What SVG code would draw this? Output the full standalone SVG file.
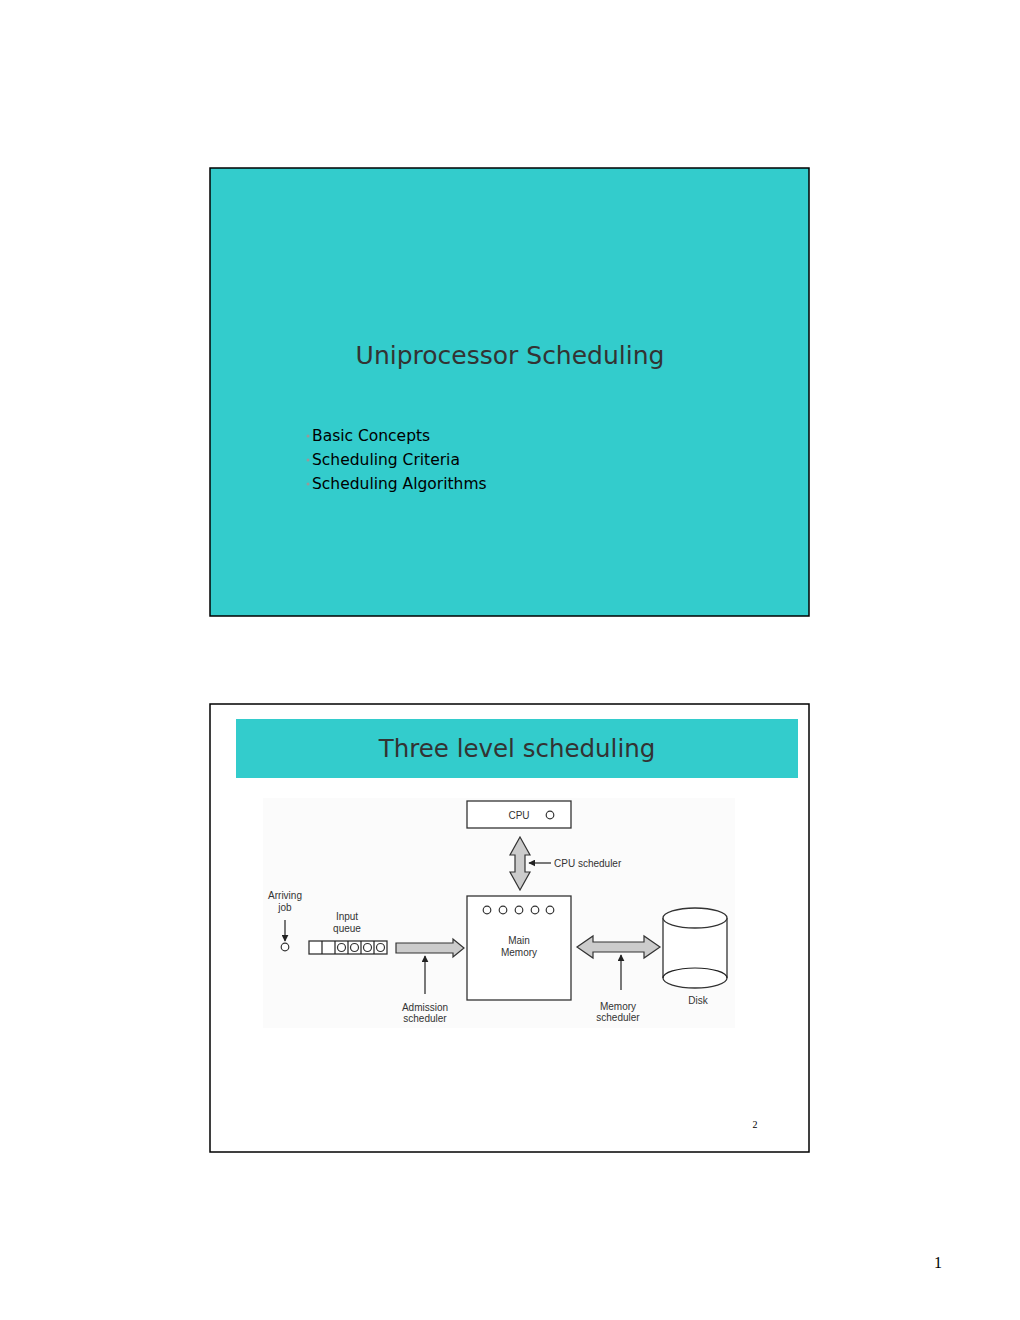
<svg xmlns="http://www.w3.org/2000/svg" width="1020" height="1320" viewBox="0 0 1020 1320">
<style>
.slide{fill:#33CCCC;stroke:#000;stroke-width:1.5}
.frame{fill:#fff;stroke:#000;stroke-width:1.5}
.ttl{font-family:"DejaVu Sans",sans-serif;fill:#333;text-anchor:middle}
.bul{font-family:"DejaVu Sans",sans-serif;fill:#000;font-size:15.5px}
.lbl{font-family:"Liberation Sans",Arial,sans-serif;font-size:10px;fill:#333;text-anchor:middle}
.lbs{font-family:"Liberation Sans",Arial,sans-serif;font-size:10px;fill:#333;text-anchor:start}
.box{fill:#fff;stroke:#333;stroke-width:1.3}
.dot{fill:#fff;stroke:#333;stroke-width:1.2}
.fat{fill:#ccc;stroke:#333;stroke-width:1.2}
.ln{stroke:#222;stroke-width:1.2;fill:none}
.pg{font-family:"Liberation Serif",serif;fill:#000;text-anchor:middle}
</style>
<defs>
<marker id="ah" viewBox="0 0 10 10" refX="9" refY="5" markerWidth="7" markerHeight="7" markerUnits="userSpaceOnUse" orient="auto"><path d="M0,0 L10,5 L0,10 z" fill="#222"/></marker>
</defs>
<rect width="1020" height="1320" fill="#fff"/>
<g id="slide1">
<rect class="slide" x="210" y="168" width="599" height="448"/>
<text class="ttl" x="510" y="364" font-size="25">Uniprocessor Scheduling</text>
<circle cx="308" cy="436" r="1.5" fill="#999"/>
<circle cx="308" cy="460" r="1.5" fill="#999"/>
<circle cx="308" cy="484" r="1.5" fill="#999"/>
<text class="bul" x="312" y="441">Basic Concepts</text>
<text class="bul" x="312" y="465">Scheduling Criteria</text>
<text class="bul" x="312" y="489">Scheduling Algorithms</text>
</g>
<g id="slide2">
<rect class="frame" x="210" y="704" width="599" height="448"/>
<rect x="236" y="719" width="562" height="59" fill="#33CCCC"/>
<text class="ttl" x="517" y="757" font-size="24.5">Three level scheduling</text>
<rect x="263" y="798" width="472" height="230" fill="#fbfbfb"/>
<text class="pg" x="755" y="1128" font-size="10">2</text>
</g>
<g id="cpu">
<rect class="box" x="467" y="801" width="104" height="27"/>
<text class="lbl" x="519" y="819">CPU</text>
<circle class="dot" cx="550" cy="815" r="3.8"/>
</g>
<g id="main-memory">
<rect class="box" x="467" y="896" width="104" height="104"/>
<circle class="dot" cx="487" cy="910" r="3.8"/>
<circle class="dot" cx="503" cy="910" r="3.8"/>
<circle class="dot" cx="519" cy="910" r="3.8"/>
<circle class="dot" cx="535" cy="910" r="3.8"/>
<circle class="dot" cx="550" cy="910" r="3.8"/>
<text class="lbl" x="519" y="944">Main</text>
<text class="lbl" x="519" y="956">Memory</text>
</g>
<g id="disk">
<path class="box" d="M663,918 L663,978 A32,10 0 0 0 727,978 L727,918"/>
<ellipse class="box" cx="695" cy="918" rx="32" ry="10"/>
<path class="ln" d="M663,978 A32,10 0 0 1 727,978"/>
<text class="lbl" x="698" y="1004">Disk</text>
</g>
<g id="arriving-job">
<text class="lbl" x="285" y="899">Arriving</text>
<text class="lbl" x="285" y="911">job</text>
<circle class="dot" cx="285" cy="947" r="3.8"/>
</g>
<g id="input-queue">
<text class="lbl" x="347" y="920">Input</text>
<text class="lbl" x="347" y="932">queue</text>
<rect class="box" x="309" y="941" width="78" height="13"/>
<path class="ln" d="M322,941V954M335,941V954M348,941V954M361,941V954M374,941V954"/>
<circle class="dot" cx="341.5" cy="947.5" r="4"/>
<circle class="dot" cx="354.5" cy="947.5" r="4"/>
<circle class="dot" cx="367.5" cy="947.5" r="4"/>
<circle class="dot" cx="380.5" cy="947.5" r="4"/>
</g>
<g id="labels">
<text class="lbs" x="554" y="867">CPU scheduler</text>
<text class="lbl" x="425" y="1011">Admission</text>
<text class="lbl" x="425" y="1022">scheduler</text>
<text class="lbl" x="618" y="1010">Memory</text>
<text class="lbl" x="618" y="1021">scheduler</text>
</g>
<g id="connectors">
<path class="fat" d="M520,837 L530,855 L525,855 L525,872 L530,872 L520,890 L510,872 L515,872 L515,855 L510,855 Z"/>
<path class="fat" d="M396,943 L453,943 L453,939 L464,948 L453,957 L453,953 L396,953 Z"/>
<path class="fat" d="M577,947 L593,936 L593,942 L644,942 L644,936 L660,947 L644,958 L644,952 L593,952 L593,958 Z"/>
<line class="ln" x1="285" y1="920" x2="285" y2="941" marker-end="url(#ah)"/>
<line class="ln" x1="551" y1="863" x2="529" y2="863" marker-end="url(#ah)"/>
<line class="ln" x1="425" y1="994" x2="425" y2="956" marker-end="url(#ah)"/>
<line class="ln" x1="621" y1="990" x2="621" y2="955" marker-end="url(#ah)"/>
</g>
<text class="pg" x="938" y="1268" font-size="16">1</text>
</svg>
